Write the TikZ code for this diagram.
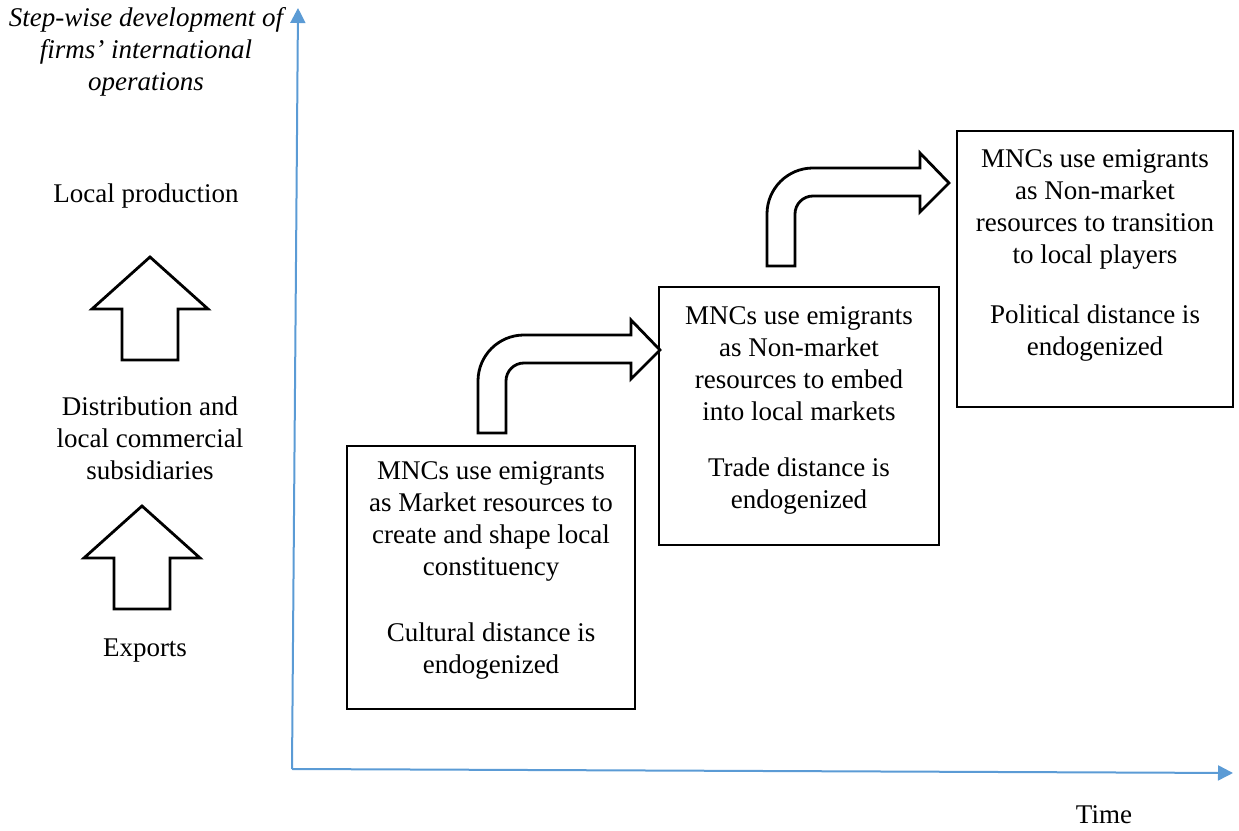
\documentclass[tikz,border=0pt]{standalone}
\usepackage{fontspec}
\setmainfont{Liberation Serif}
\usetikzlibrary{arrows.meta,positioning}
\definecolor{AxisBlue}{RGB}{91,155,213}

\tikzset{
	blockarrow/.style={draw=black, line width=1.4pt, fill=white, line join=miter},
	pics/uparrow/.style={code={
		\draw[blockarrow] (-28,0) -- (-28,51) -- (-58,51) -- (0,103) -- (58,51) -- (28,51) -- (28,0) -- cycle;
	}},
	pics/bentarrow/.style={code={
		\draw[blockarrow] (0,0) -- (0,52) arc[start angle=180, end angle=90, radius=23pt]
			-- (153,98) -- (153,113) -- (182,83) -- (153,54) -- (153,70) -- (46,70)
			arc[start angle=90, end angle=180, radius=9pt] -- (28,0) -- cycle;
	}}
}

\begin{document}
\begin{tikzpicture}[x=0.5pt, y=0.5pt,
		txt/.style={font=\fontsize{13.5}{16}\selectfont, align=center, inner sep=0pt},
		stagebox/.style={draw=black, line width=0.8pt, inner sep=0pt},
		axis/.style={draw=AxisBlue, line width=1pt, -{Triangle[length=7.5pt, width=7.5pt]}}]
	\useasboundingbox (0,0) rectangle (1239,831);
	% axes
	\coordinate (o) at (292,62);
	\coordinate (ytop) at (298,823);
	\coordinate (xend) at (1233,58);
	\draw[axis] (o) -- (ytop);
	\draw[axis] (o) -- (xend);
	\node[txt] (time) at (1104,16) {Time};
	\node[txt, font=\fontsize{13.5}{16}\selectfont\itshape] (ylab) at (146,779) {Step-wise development of\\firms' international\\operations};
	% stages on the left
	\node[txt] (lp) at (146,635) {Local production};
	\node[txt] (dist) at (150,393) {Distribution and\\local commercial\\subsidiaries};
	\node[txt] (exp) at (145,180) {Exports};
	\pic at (150,471) {uparrow};
	\pic at (142,222) {uparrow};
	% boxes
	\node[stagebox, minimum width=144pt, minimum height=131.5pt] (s1) at (491,253.5) {};
	\node[stagebox, minimum width=140pt, minimum height=129pt] (s2) at (799,415) {};
	\node[stagebox, minimum width=138pt, minimum height=138pt] (s3) at (1095,562) {};
	\node[txt] (t1) at (491,260.5) {MNCs use emigrants\\as Market resources to\\create and shape local\\constituency\\[17pt]Cultural distance is\\endogenized};
	\node[txt] (t2) at (799,420.5) {MNCs use emigrants\\as Non-market\\resources to embed\\into local markets\\[12pt]Trade distance is\\endogenized};
	\node[txt] (t3) at (1095,576) {MNCs use emigrants\\as Non-market\\resources to transition\\to local players\\[14pt]Political distance is\\endogenized};
	% bent arrows
	\pic at (478,398) {bentarrow};
	\pic at (767,565) {bentarrow};
\end{tikzpicture}
\end{document}
